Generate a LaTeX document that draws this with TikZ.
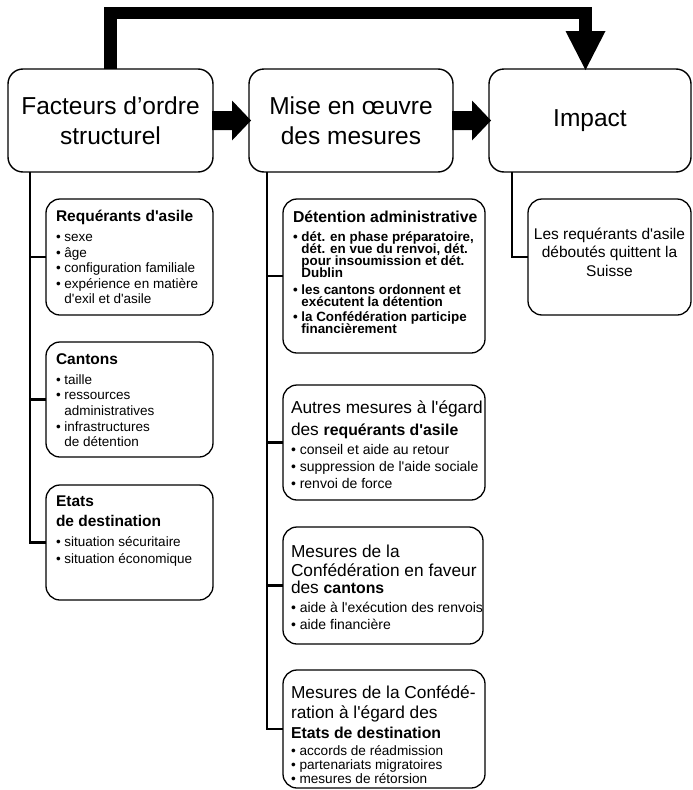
\documentclass[tikz,border=0pt]{standalone}
\usepackage{fontspec}
\newfontfamily\arialf{Liberation Sans}
\usetikzlibrary{calc}
\newcommand\lineat[3]{{\fontsize{#1}{#2}\selectfont #3\par}}
\newcommand\hind{\phantom{•\ }}
\newcommand\bul{•\ }
\newcommand\txtblock[2]{\parbox[t]{#1}{\arialf\lineskiplimit=-100pt\lineskip=0pt\parskip=0pt #2}}
\newcommand\fatarrow[2]{\fill ($(#1.east)+(-1,-9.5)$) -- ($(#2.west)+(-17,-9.5)$) -- ($(#2.west)+(-17,-20)$) -- ($(#2.west)+(2,0)$) -- ($(#2.west)+(-17,20)$) -- ($(#2.west)+(-17,9.5)$) -- ($(#1.east)+(-1,9.5)$) -- cycle;}
\begin{document}
\begin{tikzpicture}[x=1pt,y=-1pt,
  box/.style={draw, line width=1.4pt, rounded corners=15pt, inner sep=0pt, outer sep=0pt, anchor=north west},
  subbox/.style={draw, line width=1.3pt, rounded corners=14pt, inner sep=0pt, outer sep=0pt, anchor=north west},
  txt/.style={anchor=base west, inner sep=0pt, outer sep=0pt},
  conn/.style={line width=2.2pt},
  toptext/.style={align=center, font=\arialf\fontsize{24.5}{30}\selectfont}
]
\useasboundingbox (0,0) rectangle (693,790);

% top boxes
\node[box, minimum width=205pt, minimum height=103pt, toptext] (f) at (8,69) {Facteurs d’ordre\\structurel};
\node[box, minimum width=204pt, minimum height=103pt, toptext] (m) at (249,69) {Mise en œuvre\\des mesures};
\node[box, minimum width=202pt, minimum height=103pt, toptext] (imp) at (489,69) {Impact};

% fat arrows
\fatarrow{f}{m}
\fatarrow{m}{imp}
\coordinate (ty) at (0,13);
\coordinate (hb) at ($(imp.north)+(-4.5,-38)$);
\coordinate (se) at ($(imp.north)+(-4.5,-36)$);
\draw[line width=12.5pt] (f.north) -- (f.north |- ty) -| (se);
\fill (hb) ++(-20,0) -- ++(40,0) -- ($(imp.north)+(-4.5,1)$) -- cycle;

% left column
\node[subbox, minimum width=167pt, minimum height=116pt] (rq) at (46,199) {};
\node[subbox, minimum width=167pt, minimum height=115pt] (ca) at (46,342) {};
\node[subbox, minimum width=167pt, minimum height=115pt] (et) at (46,485) {};

\node[txt] (rqt) at ([shift={(10,22.5)}]rq.north west) {\txtblock{155pt}{%
  \lineat{15.5}{15.5}{\bfseries Requérants d'asile}%
  \lineat{13.5}{20}{\bul sexe}%
  \lineat{13.5}{15.6}{\bul âge}%
  \lineat{13.5}{15.6}{\bul configuration familiale}%
  \lineat{13.5}{15.6}{\bul expérience en matière}%
  \lineat{13.5}{15.6}{\hind d'exil et d'asile}}};
\node[txt] (cat) at ([shift={(10,22)}]ca.north west) {\txtblock{155pt}{%
  \lineat{15.5}{15.5}{\bfseries Cantons}%
  \lineat{13.5}{20}{\bul taille}%
  \lineat{13.5}{15.7}{\bul ressources}%
  \lineat{13.5}{15.7}{\hind administratives}%
  \lineat{13.5}{15.7}{\bul infrastructures}%
  \lineat{13.5}{15.7}{\hind de détention}}};
\node[txt] (ett) at ([shift={(10,21.7)}]et.north west) {\txtblock{155pt}{%
  \lineat{15.5}{15.5}{\bfseries Etats}%
  \lineat{15.5}{20}{\bfseries de destination}%
  \lineat{13.5}{20}{\bul situation sécuritaire}%
  \lineat{13.5}{16.7}{\bul situation économique}}};

% middle column
\node[subbox, minimum width=202pt, minimum height=154pt] (de) at (283,199) {};
\node[subbox, minimum width=202pt, minimum height=115pt] (au) at (283,385) {};
\node[subbox, minimum width=200pt, minimum height=117pt] (mc) at (283,527) {};
\node[subbox, minimum width=202pt, minimum height=118pt] (me) at (283,670) {};

\node[txt] (det) at ([shift={(10,23.7)}]de.north west) {\txtblock{190pt}{\bfseries
  \lineat{15.8}{15.8}{Détention administrative}%
  \lineat{13.4}{19}{\bul dét. en phase préparatoire,}%
  \lineat{13.4}{12}{\hind dét. en vue du renvoi, dét.}%
  \lineat{13.4}{12}{\hind pour insoumission et dét.}%
  \lineat{13.4}{12}{\hind Dublin}%
  \lineat{13.4}{16.5}{\bul les cantons ordonnent et}%
  \lineat{13.4}{12}{\hind exécutent la détention}%
  \lineat{13.4}{15.7}{\bul la Confédération participe}%
  \lineat{13.4}{12}{\hind financièrement}}};
\node[txt] (aut) at ([shift={(8,28)}]au.north west) {\txtblock{192pt}{%
  \lineat{17.3}{17.3}{Autres mesures à l'égard}%
  \lineat{17.3}{22}{des {\fontsize{15.8}{15.8}\selectfont\bfseries requérants d'asile}}%
  \lineat{14}{19}{\bul conseil et aide au retour}%
  \lineat{14}{17.5}{\bul suppression de l'aide sociale}%
  \lineat{14}{17}{\bul renvoi de force}}};
\node[txt] (mct) at ([shift={(8,30)}]mc.north west) {\txtblock{192pt}{%
  \lineat{17.3}{17.3}{Mesures de la}%
  \lineat{17.3}{19.4}{Confédération en faveur}%
  \lineat{17.3}{17.3}{des {\fontsize{15.8}{15.8}\selectfont\bfseries cantons}}%
  \lineat{14}{18.7}{\bul aide à l'exécution des renvois}%
  \lineat{14}{17.3}{\bul aide financière}}};
\node[txt] (met) at ([shift={(8,28)}]me.north west) {\txtblock{192pt}{%
  \lineat{17.3}{17.3}{Mesures de la Confédé-}%
  \lineat{17.3}{20.3}{ration à l'égard des}%
  \lineat{15.8}{20}{\bfseries Etats de destination}%
  \lineat{13.6}{16.7}{\bul accords de réadmission}%
  \lineat{13.6}{14.3}{\bul partenariats migratoires}%
  \lineat{13.6}{14}{\bul mesures de rétorsion}}};

% right column
\node[subbox, minimum width=163pt, minimum height=116pt] (ri) at (528,199) {};
\node[txt] (rit) at ([shift={(0,40)}]ri.north west) {\txtblock{163pt}{\centering
  \lineat{15.5}{15.5}{Les requérants d'asile}%
  \lineat{15.5}{18.5}{déboutés quittent la}%
  \lineat{15.5}{18.5}{Suisse}}};

% connectors
\draw[conn] ([xshift=22pt]f.south west) |- (rq.west);
\draw[conn] ([xshift=22pt]f.south west) |- (ca.west);
\draw[conn] ([xshift=22pt]f.south west) |- (et.west);
\draw[conn] ([xshift=18pt]m.south west) |- (de.west);
\draw[conn] ([xshift=18pt]m.south west) |- (au.west);
\draw[conn] ([xshift=18pt]m.south west) |- (mc.west);
\draw[conn] ([xshift=18pt]m.south west) |- (me.west);
\draw[conn] ([xshift=23pt]imp.south west) |- (ri.west);
\end{tikzpicture}
\end{document}
